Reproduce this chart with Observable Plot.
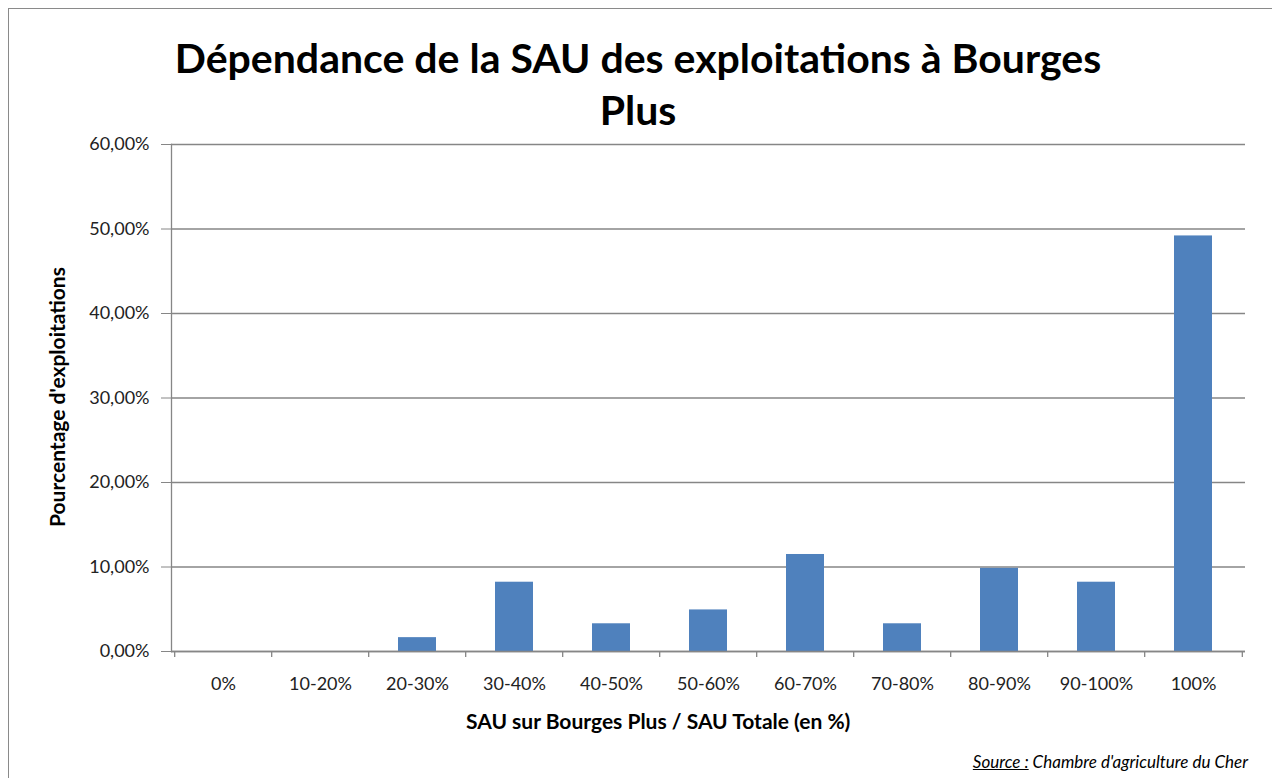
<!DOCTYPE html>
<html>
<head>
<meta charset="utf-8">
<script src="https://cdn.jsdelivr.net/npm/d3@7"></script>
<script src="https://cdn.jsdelivr.net/npm/@observablehq/plot@0.6"></script>
<style>
  html, body { margin: 0; padding: 0; background: #fff; }
  #wrap { position: relative; width: 1272px; height: 778px; overflow: hidden; font-family: Lato, "Open Sans", sans-serif; color: #000; }
  #border { position: absolute; left: 8px; top: 8px; width: 1300px; height: 800px; border-left: 1px solid #8a8a8a; border-top: 1px solid #8a8a8a; }
  .t { position: absolute; white-space: nowrap; }
  #title1 { left: 0; width: 1276px; text-align: center; top: 33px; font-size: 41px; font-weight: 700; }
  #title2 { left: 0; width: 1276px; text-align: center; top: 85px; font-size: 41px; font-weight: 700; }
  #ytitle { left: 56px; top: 397px; transform: translate(-50%, -50%) rotate(-90deg); font-size: 21px; font-weight: 700; }
  #xtitle { left: 466px; top: 708px; font-size: 21px; font-weight: 700; }
  #source { right: 24px; top: 751px; font-size: 17px; font-style: italic; }
  #source u { text-decoration: underline; }
</style>
</head>
<body>
<div id="wrap">
  <div id="chart"></div>
  <div id="border"></div>
  <div class="t" id="title1"></div>
  <div class="t" id="title2"></div>
  <div class="t" id="ytitle"></div>
  <div class="t" id="xtitle"></div>
  <div class="t" id="source"></div>
</div>
<script>
const titleLines = ["Dépendance de la SAU des exploitations à Bourges", "Plus"];
const yTitle = "Pourcentage d'exploitations";
const xTitle = "SAU sur Bourges Plus / SAU Totale (en %)";
const sourceLabel = "Source :";
const sourceText = " Chambre d'agriculture du Cher";

const categories = ["0%", "10-20%", "20-30%", "30-40%", "40-50%", "50-60%", "60-70%", "70-80%", "80-90%", "90-100%", "100%"];
const values = [0, 0, 0.0164, 0.0820, 0.0328, 0.0492, 0.1148, 0.0328, 0.0984, 0.0820, 0.4918];
const yTicks = [0, 0.1, 0.2, 0.3, 0.4, 0.5, 0.6];

const data = categories.map((c, i) => ({cat: c, val: values[i]}));

const W = 1272, H = 778, mL = 171, mR = 27, mT = 144, mB = 127;
const step = (W - mL - mR) / categories.length;
const gridColor = "#868686";
const frFmt = d => (d * 100).toFixed(2).replace(".", ",") + "%";

const chart = Plot.plot({
  width: W,
  height: H,
  marginLeft: mL,
  marginRight: mR,
  marginTop: mT,
  marginBottom: mB,
  style: {fontFamily: "Lato, 'Open Sans', sans-serif", fontSize: "18px", color: "#222", background: "#fff"},
  x: {domain: categories, paddingInner: 0.61, paddingOuter: 0.305, label: null},
  y: {domain: [0, 0.6], label: null},
  marks: [
    Plot.gridY(yTicks, {stroke: gridColor, strokeOpacity: 1, strokeWidth: 1.3}),
    Plot.axisY(yTicks, {tickSize: 10, tickPadding: 12, tickFormat: frFmt, stroke: gridColor, strokeOpacity: 1, fontSize: 18, label: null}),
    Plot.frame({anchor: "left", stroke: gridColor, strokeWidth: 1.3}),
    Plot.barY(data, {x: "cat", y: "val", fill: "#4F81BD"}),
    Plot.ruleY([0], {stroke: gridColor, strokeWidth: 1.3}),
    Plot.ruleX(categories, {x: d => d, y1: 0, y2: -0.007, dx: -step / 2, stroke: gridColor, strokeWidth: 1.3}),
    Plot.ruleX(categories.slice(-1), {x: d => d, y1: 0, y2: -0.007, dx: step / 2, stroke: gridColor, strokeWidth: 1.3}),
    Plot.axisX({tickSize: 0, tickPadding: 26, fontSize: 18, label: null})
  ]
});
document.getElementById("chart").appendChild(chart);

document.getElementById("title1").textContent = titleLines[0];
document.getElementById("title2").textContent = titleLines[1];
document.getElementById("ytitle").textContent = yTitle;
document.getElementById("xtitle").textContent = xTitle;
const src = document.getElementById("source");
const u = document.createElement("u");
u.textContent = sourceLabel;
src.appendChild(u);
src.appendChild(document.createTextNode(sourceText));
</script>
</body>
</html>
